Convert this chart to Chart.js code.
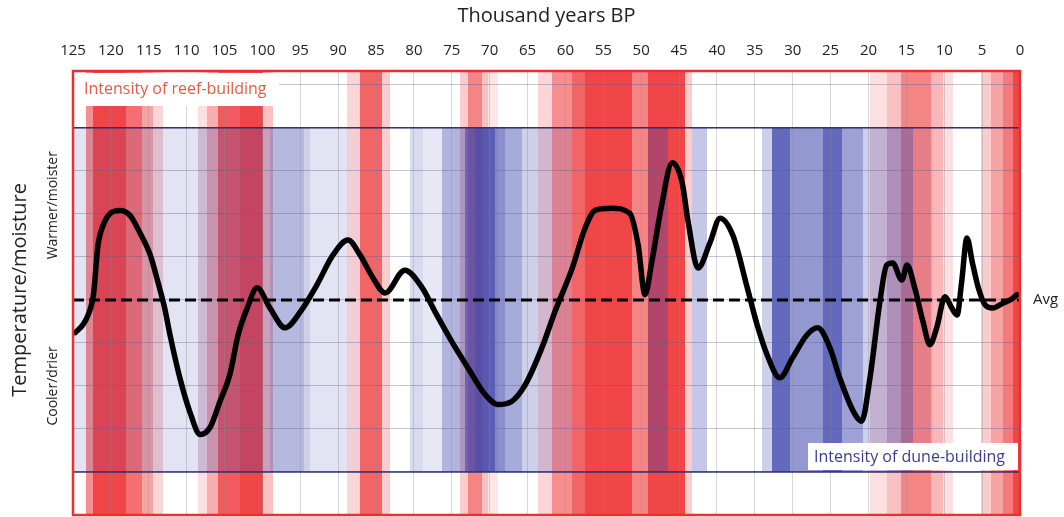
<!DOCTYPE html>
<html>
<head>
<meta charset="utf-8">
<script src="https://cdn.jsdelivr.net/npm/chart.js@4.4.1/dist/chart.umd.min.js"></script>
<style>
html,body{margin:0;padding:0;background:#fff;}
#wrap{width:1064px;height:517px;position:relative;}
</style>
</head>
<body>
<div id="wrap"><canvas id="c" width="1064" height="517"></canvas></div>
<script>
// ---- Data (thousand years BP) ----
const xTickValues = [125,120,115,110,105,100,95,90,85,80,75,70,65,60,55,50,45,40,35,30,25,20,15,10,5,0];

// Temperature/moisture curve (relative to average, arbitrary units)
const curveAge = [124.7,123.7,123.0,122.3,121.7,121.0,120.1,118.8,117.5,116.2,114.8,113.8,112.9,112.2,110.9,109.6,108.2,106.9,105.6,104.3,103.2,102.0,100.7,99.0,97.0,95.0,92.8,90.7,88.7,87.1,85.4,83.8,81.2,78.9,77.2,75.0,72.9,70.6,68.9,67.1,65.3,63.1,61.4,59.1,57.4,56.1,53.9,51.5,50.4,49.5,48.6,47.3,45.9,44.6,43.8,42.5,40.9,39.6,37.9,36.0,34.7,33.4,31.7,30.0,28.1,26.7,25.1,23.8,22.0,20.9,19.8,18.5,17.6,16.8,15.6,14.9,13.9,12.8,11.9,11.0,9.9,9.0,8.3,7.7,7.0,6.3,5.5,4.6,3.6,2.2,1.3,0.4];
const curveValue = [-0.76,-0.58,-0.35,0.12,1.27,1.74,2.01,2.08,1.97,1.57,1.04,0.42,-0.19,-0.81,-1.81,-2.59,-3.13,-2.96,-2.36,-1.74,-0.81,-0.19,0.28,-0.19,-0.65,-0.28,0.35,1.04,1.39,1.04,0.51,0.16,0.69,0.28,-0.28,-0.97,-1.57,-2.20,-2.43,-2.36,-1.97,-1.11,-0.28,0.74,1.67,2.08,2.13,2.01,1.27,0.12,0.88,2.20,3.19,2.73,1.81,0.74,1.34,1.90,1.50,0.28,-0.58,-1.27,-1.81,-1.34,-0.81,-0.65,-1.11,-1.81,-2.59,-2.82,-1.81,-0.05,0.81,0.86,0.46,0.81,0.28,-0.51,-1.04,-0.65,0.07,-0.19,-0.35,0.42,1.44,0.88,0.28,-0.12,-0.19,-0.07,0.0,0.12];
const avgValue = 0;

// Intensity of reef-building (red bands): from, to (ka BP), intensity 0..1
const reefFrom  = [123.3,122.4,118.0,115.9,114.4,108.5,107.3,105.9,103.0,99.9,88.8,87.1,84.2,73.9,72.9,71.0,70.2,63.6,61.8,59.1,57.4,51.2,49.1,44.2,19.8,17.6,15.7,11.8,10.1,5.2,3.8,2.2,0.9];
const reefTo    = [122.4,118.0,115.9,114.4,113.1,107.3,105.9,103.0,99.9,98.6,87.1,84.2,83.2,72.9,71.0,70.2,68.9,61.8,59.1,57.4,51.2,49.1,44.2,43.3,17.6,15.7,11.8,10.1,8.8,3.8,2.2,0.9,0.0];
const reefLevel = [0.55,0.9,0.7,0.45,0.2,0.15,0.4,0.8,0.9,0.3,0.2,0.75,0.25,0.25,0.6,0.3,0.12,0.2,0.55,0.75,0.9,0.6,0.9,0.25,0.15,0.3,0.6,0.35,0.15,0.25,0.45,0.65,0.9];

// Intensity of dune-building (blue bands): from, to (ka BP), intensity 0..1
const duneFrom  = [125.0,123.3,115.9,113.1,108.5,105.9,99.0,94.5,93.7,88.8,80.5,78.8,76.3,73.3,71.9,69.3,68.0,65.7,63.6,61.8,49.1,43.3,34.1,32.7,30.4,26.0,23.5,20.7,19.8,17.6,15.8,14.1];
const duneTo    = [123.3,115.9,113.1,108.5,105.9,99.0,94.5,93.7,88.8,87.1,78.8,76.3,73.3,71.9,69.3,68.0,65.7,63.6,61.8,59.1,46.5,41.3,32.7,30.4,26.0,23.5,20.7,19.8,17.6,15.8,14.1,11.5];
const duneLevel = [0.15,0.12,0.16,0.15,0.25,0.25,0.38,0.25,0.15,0.05,0.2,0.12,0.4,0.75,0.85,0.6,0.45,0.25,0.22,0.15,0.35,0.3,0.25,0.8,0.55,0.8,0.5,0.25,0.3,0.4,0.4,0.08];
const dunePanel = [4, -4];

const FONT = "'Open Sans', 'DejaVu Sans', sans-serif";
Chart.defaults.font.family = FONT;
Chart.defaults.color = '#222';

const bandsPlugin = {
  id: 'bands',
  beforeDraw(chart) {
    const {ctx, chartArea: a, scales: {x, y}} = chart;
    ctx.save();
    ctx.fillStyle = '#fff';
    ctx.fillRect(0, 0, chart.width, chart.height);
    for (let i = 0; i < reefFrom.length; i++) {
      const x0 = Math.round(x.getPixelForValue(reefFrom[i]));
      const x1 = Math.round(x.getPixelForValue(reefTo[i]));
      ctx.fillStyle = `rgba(238,50,52,${reefLevel[i]})`;
      ctx.fillRect(Math.min(x0, x1), a.top, Math.abs(x1 - x0), a.bottom - a.top);
    }
    const yT = Math.round(y.getPixelForValue(dunePanel[0]));
    const yB = Math.round(y.getPixelForValue(dunePanel[1]));
    for (let i = 0; i < duneFrom.length; i++) {
      const x0 = Math.round(x.getPixelForValue(duneFrom[i]));
      const x1 = Math.round(x.getPixelForValue(duneTo[i]));
      ctx.fillStyle = `rgba(60,68,172,${duneLevel[i]})`;
      ctx.fillRect(Math.min(x0, x1), yT, Math.abs(x1 - x0), yB - yT);
    }
    ctx.restore();
  },
  afterDraw(chart) {
    const {ctx, chartArea: a, scales: {x, y}} = chart;
    const yT = y.getPixelForValue(dunePanel[0]);
    const yB = y.getPixelForValue(dunePanel[1]);
    const y0 = y.getPixelForValue(avgValue);
    ctx.save();
    // inner (dune) panel frame
    ctx.strokeStyle = '#2d2f6e';
    ctx.lineWidth = 1.5;
    ctx.strokeRect(a.left, yT, a.right - a.left, yB - yT);
    // outer (reef) frame
    ctx.strokeStyle = '#e8312f';
    ctx.lineWidth = 2.5;
    ctx.strokeRect(a.left, a.top, a.right - a.left, a.bottom - a.top);
    // reef label
    ctx.fillStyle = '#fff';
    ctx.fillRect(a.left + 2, a.top + 2, 204, 33);
    ctx.fillStyle = '#e85a46';
    ctx.font = `16px ${FONT}`;
    ctx.textBaseline = 'middle';
    ctx.textAlign = 'left';
    ctx.fillText('Intensity of reef-building', a.left + 11, a.top + 18);
    // dune label
    ctx.fillStyle = '#fff';
    ctx.fillRect(808, yB - 29, a.right - 810, 27);
    ctx.fillStyle = '#3a3d8f';
    ctx.font = `16px ${FONT}`;
    ctx.fillText('Intensity of dune-building', 814, yB - 15);
    // Avg label
    ctx.fillStyle = '#222';
    ctx.font = `15px ${FONT}`;
    ctx.fillText('Avg', a.right + 13, y0);
    // y-axis labels
    ctx.translate(20, y0 - 10);
    ctx.rotate(-Math.PI / 2);
    ctx.textAlign = 'center';
    ctx.font = `20px ${FONT}`;
    ctx.fillText('Temperature/moisture', 0, 0);
    ctx.restore();
    ctx.save();
    ctx.fillStyle = '#222';
    ctx.font = `14px ${FONT}`;
    ctx.textAlign = 'center';
    ctx.textBaseline = 'middle';
    ctx.translate(53, y.getPixelForValue(2.2));
    ctx.rotate(-Math.PI / 2);
    ctx.fillText('Warmer/moister', 0, 0);
    ctx.restore();
    ctx.save();
    ctx.fillStyle = '#222';
    ctx.font = `14px ${FONT}`;
    ctx.textAlign = 'center';
    ctx.textBaseline = 'middle';
    ctx.translate(53, y.getPixelForValue(-2.0));
    ctx.rotate(-Math.PI / 2);
    ctx.fillText('Cooler/drier', 0, 0);
    ctx.restore();
  }
};

new Chart(document.getElementById('c'), {
  type: 'line',
  data: {
    datasets: [
      {
        label: 'Temperature/moisture',
        data: curveAge.map((a, i) => ({x: a, y: curveValue[i]})),
        borderColor: '#000',
        borderWidth: 5.5,
        borderCapStyle: 'round',
        borderJoinStyle: 'round',
        cubicInterpolationMode: 'monotone',
        pointRadius: 0,
        fill: false,
        order: 0
      },
      {
        label: 'Avg',
        data: [{x: 125, y: avgValue}, {x: 0, y: avgValue}],
        borderColor: '#000',
        borderWidth: 3,
        borderDash: [11, 5],
        pointRadius: 0,
        fill: false,
        order: 1
      }
    ]
  },
  options: {
    responsive: false,
    animation: false,
    devicePixelRatio: 1,
    layout: {padding: {left: 73, right: 44, top: 4, bottom: 2}},
    plugins: {legend: {display: false}, tooltip: {enabled: false}},
    scales: {
      x: {
        type: 'linear',
        position: 'top',
        reverse: true,
        min: 0,
        max: 125,
        afterBuildTicks: (s) => { s.ticks = xTickValues.map(v => ({value: v})); },
        ticks: {autoSkip: false, maxRotation: 0, padding: 11, font: {size: 15}, color: '#222'},
        grid: {color: 'rgba(140,140,150,0.35)', lineWidth: 1, drawTicks: false},
        border: {display: false},
        title: {display: true, text: 'Thousand years BP', font: {size: 20}, color: '#222', padding: {top: 0, bottom: 3}}
      },
      y: {
        type: 'linear',
        min: -5,
        max: 5.32,
        afterBuildTicks: (s) => { s.ticks = [-4,-3,-2,-1,0,1,2,3,4,5].map(v => ({value: v})); },
        ticks: {display: false},
        grid: {color: 'rgba(90,90,140,0.35)', lineWidth: 1, drawTicks: false},
        border: {display: false}
      }
    }
  },
  plugins: [bandsPlugin]
});
</script>
</body>
</html>
